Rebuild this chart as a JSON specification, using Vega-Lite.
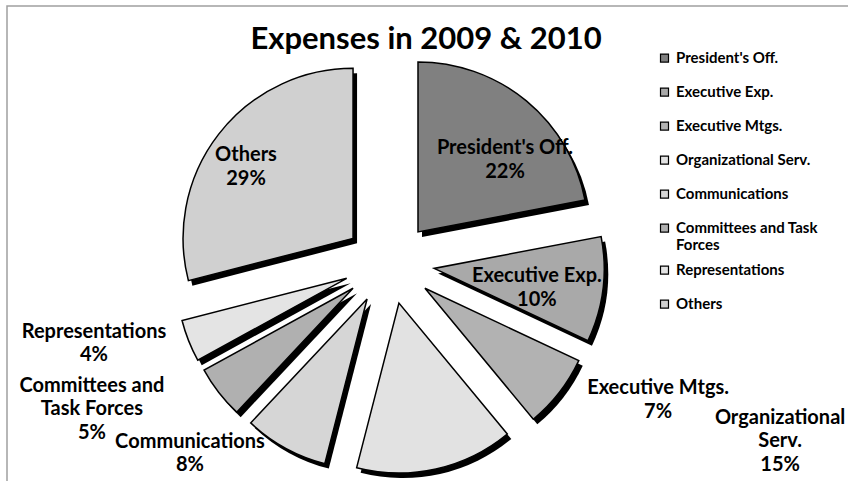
{
  "$schema": "https://vega.github.io/schema/vega-lite/v6.json",
  "width": 850,
  "height": 480,
  "autosize": {"type": "none"},
  "padding": {"left": 7, "top": 6, "right": 0, "bottom": 0},
  "background": "white",
  "view": {"stroke": "#a0a0a0", "strokeWidth": 1.5},
  "title": {
    "text": "Expenses in 2009 & 2010",
    "font": "Lato",
    "fontSize": 31,
    "fontWeight": "bold",
    "color": "black",
    "anchor": "middle",
    "frame": "group",
    "offset": 0,
    "baseline": "alphabetic",
    "dy": 74,
    "dx": -6
  },
  "data": {
    "values": [
      {"category": "President's Off.", "pct": 22, "label": "President's Off."},
      {"category": "Executive Exp.", "pct": 10, "label": "Executive Exp."},
      {"category": "Executive Mtgs.", "pct": 7, "label": "Executive Mtgs."},
      {"category": "Organizational Serv.", "pct": 15, "label": "Organizational\nServ."},
      {"category": "Communications", "pct": 8, "label": "Communications"},
      {"category": "Committees and Task Forces", "pct": 5, "label": "Committees and\nTask Forces"},
      {"category": "Representations", "pct": 4, "label": "Representations"},
      {"category": "Others", "pct": 29, "label": "Others"}
    ]
  },
  "transform": [
    {"stack": "pct", "groupby": [], "as": ["t0", "t1"]},
    {"calculate": "(datum.t0 + datum.t1) / 2", "as": "tm"},
    {"calculate": "sin(datum.tm / 100 * 2 * PI)", "as": "ex"},
    {"calculate": "cos(datum.tm / 100 * 2 * PI)", "as": "ey"},
    {"calculate": "datum.label + '\\n' + datum.pct + '%'", "as": "txt"}
  ],
  "encoding": {
    "x": {"field": "ex", "type": "quantitative", "scale": {"domain": [-1, 1], "range": [336.5, 427.5], "nice": false, "zero": false}, "axis": null},
    "y": {"field": "ey", "type": "quantitative", "scale": {"domain": [-1, 1], "range": [298, 216.6], "nice": false, "zero": false}, "axis": null}
  },
  "layer": [
    {
      "mark": {"type": "arc", "outerRadius": 170, "innerRadius": 0, "color": "black", "xOffset": 4, "yOffset": 5},
      "encoding": {
        "theta": {"field": "t0", "type": "quantitative", "scale": {"domain": [0, 100]}},
        "theta2": {"field": "t1"}
      }
    },
    {
      "mark": {"type": "arc", "outerRadius": 170, "innerRadius": 0, "stroke": "black", "strokeWidth": 1.5},
      "encoding": {
        "theta": {"field": "t0", "type": "quantitative", "scale": {"domain": [0, 100]}},
        "theta2": {"field": "t1"},
        "color": {
          "field": "category",
          "type": "nominal",
          "scale": {
            "domain": ["President's Off.", "Executive Exp.", "Executive Mtgs.", "Organizational Serv.", "Communications", "Committees and Task Forces", "Representations", "Others"],
            "range": ["#808080", "#a9a9a9", "#b2b2b2", "#e2e2e2", "#d6d6d6", "#b0b0b0", "#e4e4e4", "#d0d0d0"]
          },
          "legend": {
            "title": null,
            "orient": "none",
            "legendX": 650,
            "legendY": 35.2,
            "symbolType": "square",
            "symbolSize": 64,
            "symbolStrokeColor": "black",
            "symbolStrokeWidth": 1.2,
            "labelFont": "Lato",
            "labelFontSize": 15,
            "labelFontWeight": "bold",
            "labelColor": "black",
            "labelLimit": 220,
            "clipHeight": 33.8,
            "rowPadding": 0,
            "labelExpr": "datum.label === 'Committees and Task Forces' ? ['Committees and Task', 'Forces'] : datum.label"
          }
        }
      }
    },
    {
      "transform": [{"filter": {"field": "category", "equal": "President's Off."}}],
      "mark": {"type": "text", "radius": 120.9, "thetaOffset": 0.112, "font": "Lato", "fontSize": 20, "fontWeight": "bold", "color": "black", "lineBreak": "\n", "lineHeight": 24, "baseline": "middle", "align": "center"},
      "encoding": {"theta": {"field": "tm", "type": "quantitative", "scale": {"domain": [0, 100]}}, "text": {"field": "txt"}}
    },
    {
      "transform": [{"filter": {"field": "category", "equal": "Executive Exp."}}],
      "mark": {"type": "text", "radius": 103, "thetaOffset": -0.05, "font": "Lato", "fontSize": 20, "fontWeight": "bold", "color": "black", "lineBreak": "\n", "lineHeight": 24, "baseline": "middle", "align": "center"},
      "encoding": {"theta": {"field": "tm", "type": "quantitative", "scale": {"domain": [0, 100]}}, "text": {"field": "txt"}}
    },
    {
      "transform": [{"filter": {"field": "category", "equal": "Others"}}],
      "mark": {"type": "text", "radius": 135.7, "thetaOffset": 0.002, "font": "Lato", "fontSize": 20, "fontWeight": "bold", "color": "black", "lineBreak": "\n", "lineHeight": 24, "baseline": "middle", "align": "center"},
      "encoding": {"theta": {"field": "tm", "type": "quantitative", "scale": {"domain": [0, 100]}}, "text": {"field": "txt"}}
    },
    {
      "transform": [{"filter": {"field": "category", "equal": "Executive Mtgs."}}],
      "mark": {"type": "text", "radius": 253.6, "thetaOffset": -0.255, "font": "Lato", "fontSize": 20, "fontWeight": "bold", "color": "black", "lineBreak": "\n", "lineHeight": 24, "baseline": "middle", "align": "center"},
      "encoding": {"theta": {"field": "tm", "type": "quantitative", "scale": {"domain": [0, 100]}}, "text": {"field": "txt"}}
    },
    {
      "transform": [{"filter": {"field": "category", "equal": "Organizational Serv."}}],
      "mark": {"type": "text", "radius": 398.1, "thetaOffset": -1.058, "font": "Lato", "fontSize": 20, "fontWeight": "bold", "color": "black", "lineBreak": "\n", "lineHeight": 23.5, "baseline": "middle", "align": "center"},
      "encoding": {"theta": {"field": "tm", "type": "quantitative", "scale": {"domain": [0, 100]}}, "text": {"field": "txt"}}
    },
    {
      "transform": [{"filter": {"field": "category", "equal": "Communications"}}],
      "mark": {"type": "text", "radius": 227.6, "thetaOffset": 0.389, "font": "Lato", "fontSize": 20, "fontWeight": "bold", "color": "black", "lineBreak": "\n", "lineHeight": 23, "baseline": "middle", "align": "center"},
      "encoding": {"theta": {"field": "tm", "type": "quantitative", "scale": {"domain": [0, 100]}}, "text": {"field": "txt"}}
    },
    {
      "transform": [{"filter": {"field": "category", "equal": "Committees and Task Forces"}}],
      "mark": {"type": "text", "radius": 278.8, "thetaOffset": 0.302, "font": "Lato", "fontSize": 20, "fontWeight": "bold", "color": "black", "lineBreak": "\n", "lineHeight": 23.5, "baseline": "middle", "align": "center"},
      "encoding": {"theta": {"field": "tm", "type": "quantitative", "scale": {"domain": [0, 100]}}, "text": {"field": "txt"}}
    },
    {
      "transform": [{"filter": {"field": "category", "equal": "Representations"}}],
      "mark": {"type": "text", "radius": 258.3, "thetaOffset": 0.168, "font": "Lato", "fontSize": 20, "fontWeight": "bold", "color": "black", "lineBreak": "\n", "lineHeight": 23, "baseline": "middle", "align": "center"},
      "encoding": {"theta": {"field": "tm", "type": "quantitative", "scale": {"domain": [0, 100]}}, "text": {"field": "txt"}}
    }
  ]
}
